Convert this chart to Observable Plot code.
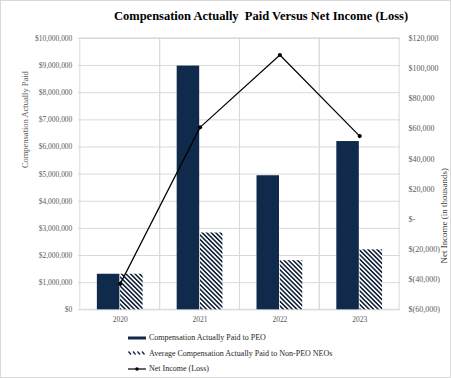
<!DOCTYPE html>
<html><head><meta charset="utf-8">
<script src="https://cdn.jsdelivr.net/npm/d3@7"></script>
<script src="https://cdn.jsdelivr.net/npm/@observablehq/plot@0.6"></script>
<style>
html,body{margin:0;padding:0;background:#fff;}
#wrap{position:relative;width:451px;height:378px;box-sizing:border-box;border:1px solid #d9d9d9;overflow:hidden;font-family:"Liberation Serif","Times New Roman",serif;}
#chart{position:absolute;left:-1px;top:-1px;}
#title{position:absolute;left:260px;top:9px;transform:translateX(-50%);white-space:pre;font-weight:bold;font-size:12.5px;line-height:1;color:#000;}
#legend{position:absolute;left:127px;top:329px;font-size:8px;color:#262626;}
.row{display:flex;align-items:center;height:15.5px;}
.row svg{margin-right:2px;}
</style></head>
<body>
<div id="wrap">
  <div id="chart"></div>
  <div id="title"></div>
  <div id="legend"></div>
</div>
<script>
const years = ["2020", "2021", "2022", "2023"];
const peoCap = [1310000, 8980000, 4940000, 6200000];
const neoCap = [1310000, 2830000, 1810000, 2210000];
const netIncome = [-42800, 61000, 109000, 55200];
const leftTicks = [0, 1000000, 2000000, 3000000, 4000000, 5000000, 6000000, 7000000, 8000000, 9000000, 10000000];
const rightTicks = [-60000, -40000, -20000, 0, 20000, 40000, 60000, 80000, 100000, 120000];
const titleText = "Compensation Actually  Paid Versus Net Income (Loss)";
const leftLabel = "Compensation Actually Paid";
const rightLabel = "Net Income (in thousands)";
const seriesNames = ["Compensation Actually Paid to PEO", "Average Compensation Actually Paid to Non-PEO NEOs", "Net Income (Loss)"];

const navy = "#0f2a4a";
const grid = "#d9d9d9";
const W = 451, H = 378, ML = 78, MR = 50, MT = 38, MB = 68;
const leftMax = leftTicks[leftTicks.length - 1];
const rMin = rightTicks[0], rMax = rightTicks[rightTicks.length - 1];
const toLeft = v => (v - rMin) / (rMax - rMin) * leftMax;

const table = years.map((y, i) => ({year: y, peo: peoCap[i], neo: neoCap[i], ni: netIncome[i]}));
const bw = (W - ML - MR) / years.length;
const barW = 23.3;
const outer = bw / 2 - barW;

const fmtL = d => "$" + d3.format(",")(d);
const fmtR = d => d === 0 ? "$-" : d < 0 ? "$(" + d3.format(",")(-d) + ")" : "$" + d3.format(",")(d);

const plot = Plot.plot({
  width: W, height: H,
  marginLeft: ML, marginRight: MR, marginTop: MT, marginBottom: MB,
  x: {type: "band", domain: years, padding: 0, axis: null},
  y: {domain: [0, leftMax], axis: null},
  style: {fontFamily: "'Liberation Serif','Times New Roman',serif", background: "transparent", overflow: "visible"},
  marks: [
    Plot.gridY(leftTicks, {stroke: grid, strokeOpacity: 1}),
    Plot.barY(years, {x: d => d, y: leftMax, fill: "none", stroke: grid}),
    Plot.barY(table, {x: "year", y: "peo", fill: navy, insetLeft: outer, insetRight: bw / 2}),
    Plot.barY(table, {x: "year", y: "neo", fill: "url(#hatch)", insetLeft: bw / 2, insetRight: outer}),
    Plot.line(table, {x: "year", y: d => toLeft(d.ni), stroke: "#000", strokeWidth: 1.2}),
    Plot.dot(table, {x: "year", y: d => toLeft(d.ni), r: 2.1, fill: "#000"}),
    Plot.text(leftTicks, {y: d => d, text: fmtL, frameAnchor: "left", textAnchor: "end", dx: -6, fontSize: 7.5, fill: "#595959"}),
    Plot.text(rightTicks, {y: d => toLeft(d), text: fmtR, frameAnchor: "right", textAnchor: "start", dx: 8, fontSize: 8, fill: "#595959"}),
    Plot.text(years, {x: d => d, text: d => d, frameAnchor: "bottom", dy: 12, fontSize: 7.5, fill: "#595959"}),
    Plot.text([leftLabel], {frameAnchor: "left", dx: -53, dy: -6, rotate: -90, fontSize: 8.5, fill: "#595959"}),
    Plot.text([rightLabel], {frameAnchor: "right", dx: 44, dy: -6, rotate: -90, fontSize: 9, fill: "#404040"})
  ]
});

// hatch pattern definition
const svg = d3.select(plot);
const defs = svg.insert("defs", ":first-child");
const pat = defs.append("pattern").attr("id", "hatch").attr("patternUnits", "userSpaceOnUse")
  .attr("width", 3.2).attr("height", 3.2).attr("patternTransform", "rotate(-45)");
pat.append("rect").attr("width", 3.2).attr("height", 3.2).attr("fill", "#fff");
pat.append("rect").attr("width", 1.6).attr("height", 3.2).attr("fill", "#14243a");

document.getElementById("chart").appendChild(plot);
document.getElementById("title").textContent = titleText;

// legend
const leg = d3.select("#legend");
const r1 = leg.append("div").attr("class", "row");
const s1 = r1.append("svg").attr("width", 19).attr("height", 8);
s1.append("rect").attr("x", 0).attr("y", 2.5).attr("width", 18).attr("height", 3).attr("fill", navy);
r1.append("span").text(seriesNames[0]);

const r2 = leg.append("div").attr("class", "row");
const s2 = r2.append("svg").attr("width", 19).attr("height", 8);
[0, 4.5, 9, 13.5].forEach(x0 => s2.append("line").attr("x1", x0 + 0.5).attr("y1", 2.5).attr("x2", x0 + 3).attr("y2", 5.5).attr("stroke", "#14243a").attr("stroke-width", 1.3));
r2.append("span").text(seriesNames[1]);

const r3 = leg.append("div").attr("class", "row");
const s3 = r3.append("svg").attr("width", 19).attr("height", 8);
s3.append("line").attr("x1", 0).attr("y1", 4).attr("x2", 18).attr("y2", 4).attr("stroke", "#000").attr("stroke-width", 1.2);
s3.append("circle").attr("cx", 9).attr("cy", 4).attr("r", 1.8).attr("fill", "#000");
r3.append("span").text(seriesNames[2]);
</script>
</body></html>
